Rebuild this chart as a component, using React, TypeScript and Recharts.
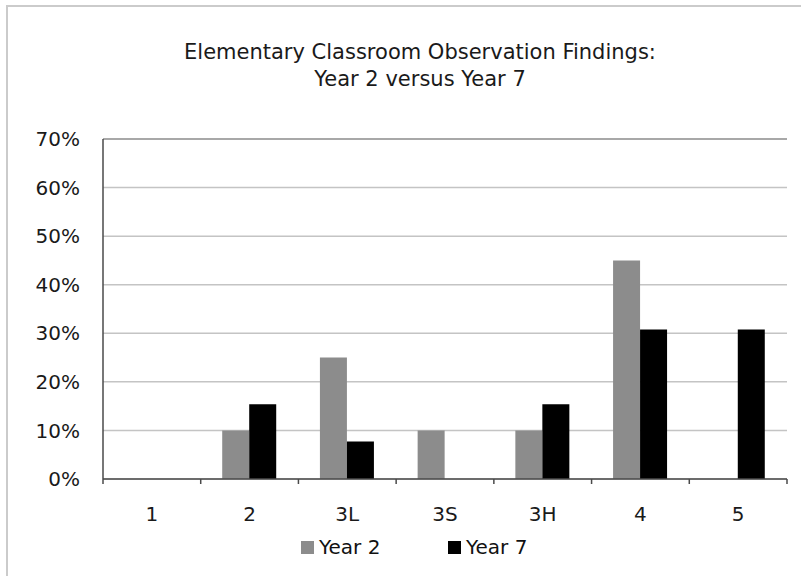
import { BarChart, Bar, XAxis, YAxis, CartesianGrid, Legend, ReferenceLine } from 'recharts'

const CATEGORIES = ['1', '2', '3L', '3S', '3H', '4', '5']
const YEAR_2 = [0, 10, 25, 10, 10, 45, 0]
const YEAR_7 = [0, 15.4, 7.7, 0, 15.4, 30.8, 30.8]
const Y_TICKS = [0, 10, 20, 30, 40, 50, 60, 70]

const data = CATEGORIES.map((name, i) => ({ name, y2: YEAR_2[i], y7: YEAR_7[i] }))

const FONT = '"DejaVu Sans", Verdana, sans-serif'
const GRAY = '#8c8c8c'
const AXIS = '#4a4a4a'
const FRAME = '#9a9a9a'
const LABEL_GAP = 28

// category label plus the small marks at the band edges (Excel style)
function CategoryTick({ x, y, payload, index, visibleTicksCount }: any) {
  const half = payload?.offset || 0
  const axisY = y - LABEL_GAP
  const last = index === visibleTicksCount - 1
  return (
    <g>
      <line x1={x - half} x2={x - half} y1={axisY} y2={axisY + 5} stroke={AXIS} strokeWidth={1.5} />
      {last && <line x1={x + half} x2={x + half} y1={axisY} y2={axisY + 5} stroke={AXIS} strokeWidth={1.5} />}
      <text x={x} y={y} dy="0.71em" textAnchor="middle" fontFamily={FONT} fontSize={20} fill="#1a1a1a">
        {payload.value}
      </text>
    </g>
  )
}

function LegendContent({ payload }: any) {
  return (
    <div style={{ height: 58, display: 'flex', alignItems: 'center', paddingLeft: 301, fontFamily: FONT, fontSize: 20, color: '#111' }}>
      {(payload || []).map((p: any, i: number) => (
        <div key={p.value} style={{ display: 'flex', alignItems: 'center', width: i === 0 ? 147 : 'auto' }}>
          <div style={{ width: 13, height: 13, background: p.color, marginRight: 5 }} />
          <span>{p.value}</span>
        </div>
      ))}
    </div>
  )
}

export default function App() {
  return (
    <div style={{ position: 'absolute', left: 0, top: 0, width: 801, height: 576, background: '#fff', overflow: 'hidden' }}>
      {/* outer frame, only top and left edges visible */}
      <div style={{ position: 'absolute', left: 6, top: 5, width: 820, height: 600, borderLeft: '2px solid #cbcbcb', borderTop: '2px solid #cbcbcb' }} />
      <div
        style={{
          position: 'absolute',
          left: 120,
          top: 39,
          width: 600,
          textAlign: 'center',
          fontFamily: FONT,
          fontSize: 21,
          lineHeight: '27px',
          color: '#1a1a1a',
          whiteSpace: 'nowrap',
        }}
      >
        Elementary Classroom Observation Findings:
        <br />
        Year 2 versus Year 7
      </div>
      <div style={{ position: 'absolute', left: 0, top: 0 }}>
        <BarChart
          width={801}
          height={576}
          data={data}
          margin={{ top: 139, right: 14, bottom: 0, left: 0 }}
          barCategoryGap="22%"
          barGap={0}
        >
          <CartesianGrid vertical={false} stroke="#c4c4c4" strokeWidth={1.5} />
          <XAxis
            dataKey="name"
            height={39}
            tickLine={false}
            tickSize={0}
            tickMargin={LABEL_GAP}
            axisLine={{ stroke: AXIS, strokeWidth: 1.5 }}
            tick={<CategoryTick />}
            interval={0}
          />
          <YAxis
            domain={[0, 70]}
            ticks={Y_TICKS}
            width={103}
            tickLine={false}
            tickSize={0}
            tickMargin={23}
            axisLine={{ stroke: AXIS, strokeWidth: 1.5 }}
            tick={{ fontFamily: FONT, fontSize: 20, fill: '#1a1a1a' }}
            tickFormatter={(v: number) => `${v}%`}
            interval={0}
          />
          <YAxis
            yAxisId="r"
            orientation="right"
            domain={[0, 70]}
            width={0}
            tick={false}
            tickLine={false}
            axisLine={{ stroke: FRAME, strokeWidth: 1.5 }}
          />
          <ReferenceLine y={70} stroke={FRAME} strokeWidth={1.5} />
          <Legend verticalAlign="bottom" align="left" content={<LegendContent />} />
          <Bar dataKey="y2" name="Year 2" fill={GRAY} isAnimationActive={false} />
          <Bar dataKey="y7" name="Year 7" fill="#000" isAnimationActive={false} />
        </BarChart>
      </div>
    </div>
  )
}
